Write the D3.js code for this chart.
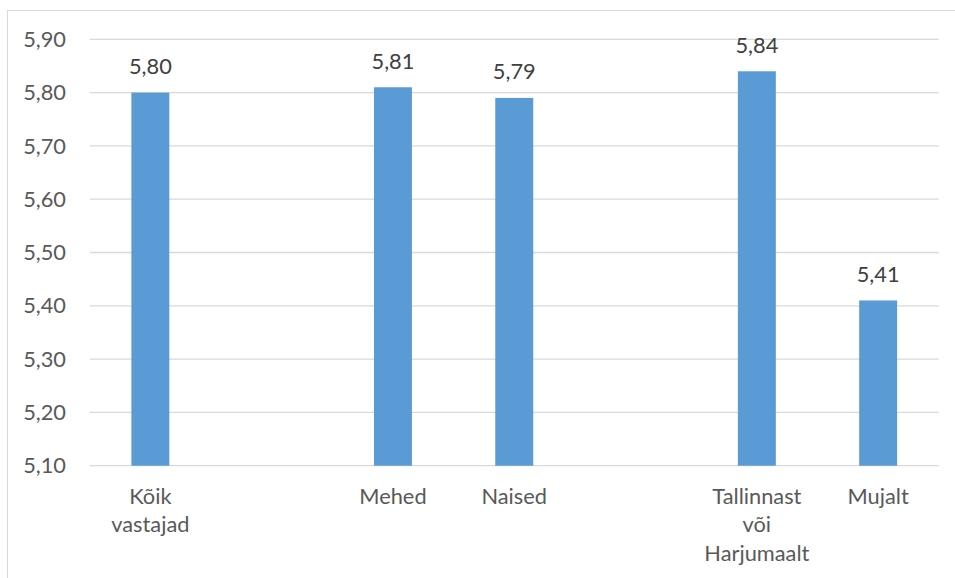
<!DOCTYPE html>
<html>
<head>
<meta charset="utf-8">
<script src="https://cdn.jsdelivr.net/npm/d3@7"></script>
<style>
  html, body { margin: 0; padding: 0; background: #fff; }
  svg { display: block; }
  text { font-family: "Lato", "Liberation Sans", sans-serif; fill: #595959; }
</style>
</head>
<body>
<svg id="chart" width="955" height="578"></svg>
<script>
const categories = ["Kõik vastajad", "", "Mehed", "Naised", " ", "Tallinnast või Harjumaalt", "Mujalt"];
const values = [5.80, null, 5.81, 5.79, null, 5.84, 5.41];
const yTicks = [5.10, 5.20, 5.30, 5.40, 5.50, 5.60, 5.70, 5.80, 5.90];

const svg = d3.select("#chart");
const W = 955, H = 578;
const m = { left: 89.7, right: 955 - 938.8, top: 39.3, bottom: 578 - 465.7 };
const FS = 21.8;

// outer chart border (only top and left visible)
svg.append("rect")
  .attr("x", 7.5).attr("y", 10.5)
  .attr("width", 1000).attr("height", 1000)
  .attr("fill", "none").attr("stroke", "#d9d9d9").attr("stroke-width", 1);

const x = d3.scaleBand()
  .domain(categories)
  .range([m.left, W - m.right])
  .paddingInner(0.687).paddingOuter(0.3435);

const y = d3.scaleLinear()
  .domain([5.10, 5.90])
  .range([H - m.bottom, m.top]);

// gridlines
svg.append("g")
  .selectAll("line")
  .data(yTicks)
  .join("line")
  .attr("x1", m.left).attr("x2", W - m.right)
  .attr("y1", d => y(d)).attr("y2", d => y(d))
  .attr("stroke", "#d9d9d9").attr("stroke-width", 1.3);

// y tick labels
const fmt = d => d.toFixed(2).replace(".", ",");
svg.append("g")
  .selectAll("text")
  .data(yTicks)
  .join("text")
  .attr("x", 66).attr("y", d => y(d))
  .attr("dy", "0.35em")
  .attr("text-anchor", "end")
  .attr("font-size", FS)
  .text(fmt);

const data = categories.map((c, i) => ({ c, v: values[i] })).filter(d => d.v !== null);

// bars
svg.append("g")
  .selectAll("rect")
  .data(data)
  .join("rect")
  .attr("x", d => x(d.c))
  .attr("width", x.bandwidth())
  .attr("y", d => y(d.v))
  .attr("height", d => y(5.10) - y(d.v))
  .attr("fill", "#5b9bd5");

// value labels
svg.append("g")
  .selectAll("text")
  .data(data)
  .join("text")
  .attr("x", d => x(d.c) + x.bandwidth() / 2)
  .attr("y", d => y(d.v) - 18.5)
  .attr("text-anchor", "middle")
  .attr("font-size", FS)
  .style("fill", "#404040")
  .text(d => fmt(d.v));

// category labels
const lab = svg.append("g");
categories.forEach(c => {
  if (!c.trim()) return;
  const words = c.split(" ");
  const t = lab.append("text")
    .attr("x", x(c) + x.bandwidth() / 2)
    .attr("y", 503.5)
    .attr("text-anchor", "middle")
    .attr("font-size", FS);
  words.forEach((w, i) => {
    t.append("tspan")
      .attr("x", x(c) + x.bandwidth() / 2)
      .attr("dy", i === 0 ? 0 : 28.5)
      .text(w);
  });
});
</script>
</body>
</html>
